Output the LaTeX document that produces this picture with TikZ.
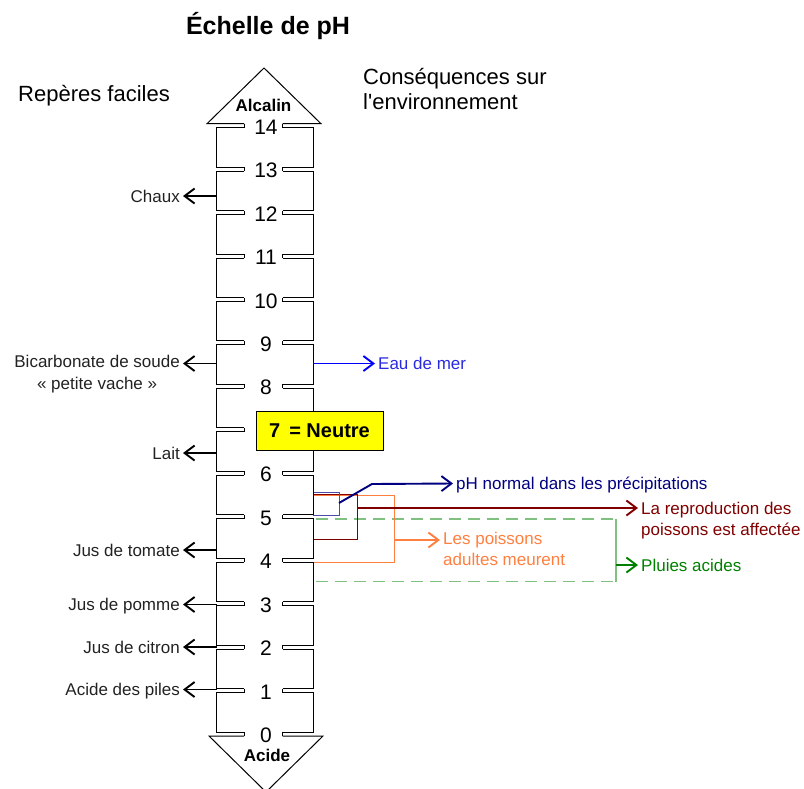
\documentclass[tikz,border=0pt]{standalone}
\usepackage{fontspec}
\setmainfont{Liberation Sans}
\usetikzlibrary{arrows.meta}
\definecolor{navyc}{HTML}{000080}
\definecolor{darkredc}{HTML}{800000}
\definecolor{orangec}{HTML}{FF7F40}
\definecolor{greenc}{HTML}{008000}
\definecolor{lgreenc}{HTML}{80C080}
\definecolor{bluec}{HTML}{0000FF}
\definecolor{bluetxt}{HTML}{2A2AE0}
\definecolor{yellowc}{HTML}{FFFF00}
\definecolor{labc}{HTML}{222222}
\begin{document}
\begin{tikzpicture}[x=1pt,y=-1pt,
  lbl/.style={font=\fontsize{17}{20}\selectfont, inner xsep=3pt, inner ysep=0pt, text height=12.2pt, text depth=0pt},
  num/.style={font=\fontsize{21}{24}\selectfont, inner sep=0pt, text height=15pt, text depth=0pt},
  head/.style={font=\fontsize{22}{26}\selectfont, inner sep=0pt, text height=15.8pt, text depth=0pt},
  ttl/.style={font=\bfseries\fontsize{25}{30}\selectfont, inner sep=0pt, text height=18pt, text depth=0pt},
  endlbl/.style={font=\bfseries\fontsize{17}{20}\selectfont, inner sep=0pt, text height=12.2pt, text depth=0pt},
  scaleline/.style={line width=1pt, black},
  conn/.style={line width=1.9pt, -{Straight Barb[length=10pt,width=15pt]}},
  rangebox/.style={line width=0.9pt}
]
\useasboundingbox (0,0) rectangle (804,788);
\clip (0,0) rectangle (804,788);

% title and headings
\node[ttl] (title) at (268,25) {Échelle de pH};
\node[head, anchor=west] (rep) at (18,94) {Repères faciles};
\node[head, anchor=west] (cons1) at (363,77) {Conséquences sur};
\node[head, anchor=west] (cons2) at (363,102) {l\textquotesingle environnement};

% range boxes on the right (drawn under the scale)
\draw[lgreenc, line width=1.4pt, dash pattern=on 12pt off 7pt] (316,519) -- (616,519);
\draw[lgreenc, line width=1.4pt, dash pattern=on 12pt off 7pt] (316,581.5) -- (616,581.5);
\draw[lgreenc, line width=1.4pt] (616,519) -- (616,581.5);
\coordinate (gstart) at (616,565);
\draw[orangec, rangebox] (313,495) -- (394,495) -- (394,562) -- (313,562);
\coordinate (ostart) at (394,540);
\draw[darkredc, rangebox] (313,494) -- (357,494) -- (357,539) -- (313,539);
\coordinate (rstart) at (357,508);
\draw[navyc!70, rangebox] (313,492) -- (339,492) -- (339,515) -- (313,515);
\coordinate (nstart) at (339,503);
\coordinate (nbend) at (372,484);

% scale body
\foreach \n in {1,...,14}{
  \pgfmathsetmacro\ta{734-43.45*\n}
  \pgfmathsetmacro\tb{734-43.45*(\n-1)}
  \draw[scaleline] (244,\ta+2) -- (216.5,\ta+2) -- (216.5,\tb-2) -- (244,\tb-2);
  \draw[scaleline] (282.5,\ta+2) -- (313,\ta+2) -- (313,\tb-2) -- (282.5,\tb-2);
}
\foreach \n in {0,...,14}{
  \pgfmathsetmacro\ta{734-43.45*\n}
  \draw[scaleline] (244,\ta-2) -- (244,\ta+2);
  \draw[scaleline] (282.5,\ta-2) -- (282.5,\ta+2);
  \ifnum\n=7\else
    \node[num] (n\n) at (266,\ta+1) {\n};
  \fi
}
% arrow heads of the scale
\draw[scaleline] (244,123.7) -- (207,123.7) -- (264,68) -- (321,123.7) -- (282.5,123.7);
\draw[scaleline] (244,736) -- (209,736) -- (266,792) -- (323,736) -- (282.5,736);
\node[endlbl] (alc) at (263.5,105.5) {Alcalin};
\node[endlbl] (aci) at (267,755.5) {Acide};

% neutral box
\node[draw=black, line width=0.9pt, fill=yellowc, minimum width=127pt, minimum height=39pt,
      inner sep=0pt, font=\bfseries\fontsize{20}{24}\selectfont, text height=14.3pt, text depth=0pt]
      (neutre) at (319.5,430.5) {7\hspace{9pt}= Neutre};

% left landmarks
\coordinate (lchaux) at (216.5,196);
\node[lbl, labc, anchor=east] (chaux) at (183,196) {Chaux};
\draw[conn] (lchaux) -- (chaux.east);

\coordinate (lbic) at (216.5,363.5);
\node[lbl, labc, anchor=east] (bic1) at (183,361) {Bicarbonate de soude};
\node[lbl, labc, anchor=north] (bic2) at ([yshift=-9.3pt]bic1.south) {« petite vache »};
\draw[conn] (lbic) -- (bic1.east |- lbic);

\coordinate (llait) at (216.5,453);
\node[lbl, labc, anchor=east] (lait) at (183,453) {Lait};
\draw[conn] (llait) -- (lait.east);

\coordinate (ltom) at (216.5,550);
\node[lbl, labc, anchor=east] (tom) at (183,550) {Jus de tomate};
\draw[conn] (ltom) -- (tom.east);

\coordinate (lpom) at (216.5,604.5);
\node[lbl, labc, anchor=east] (pom) at (183,604.5) {Jus de pomme};
\draw[conn] (lpom) -- (pom.east);

\coordinate (lcit) at (216.5,647);
\node[lbl, labc, anchor=east] (cit) at (183,647) {Jus de citron};
\draw[conn] (lcit) -- (cit.east);

\coordinate (lpil) at (216.5,689.5);
\node[lbl, labc, anchor=east] (pil) at (183,689.5) {Acide des piles};
\draw[conn] (lpil) -- (pil.east);

% right consequences
\coordinate (rmer) at (313,363.5);
\node[lbl, bluetxt, anchor=west] (mer) at (375,363.5) {Eau de mer};
\draw[conn, bluec] (rmer) -- (mer.west);

\node[lbl, navyc, anchor=west] (norm) at (453,483.5) {pH normal dans les précipitations};
\draw[conn, navyc] (nstart) -- (nbend) -- (norm.west);

\node[lbl, darkredc, anchor=west] (rep1) at (638,508) {La reproduction des};
\node[lbl, darkredc, anchor=west] (rep2) at (638,529.5) {poissons est affectée};
\draw[conn, darkredc] (rstart) -- (rep1.west);

\node[lbl, orangec, anchor=west] (poi1) at (440,538.5) {Les poissons};
\node[lbl, orangec, anchor=west] (poi2) at (440,559.5) {adultes meurent};
\draw[conn, orangec] (ostart) -- (poi1.west |- ostart);

\node[lbl, greenc, anchor=west] (pluie) at (638,565) {Pluies acides};
\draw[conn, greenc] (gstart) -- (pluie.west);
\end{tikzpicture}
\end{document}
